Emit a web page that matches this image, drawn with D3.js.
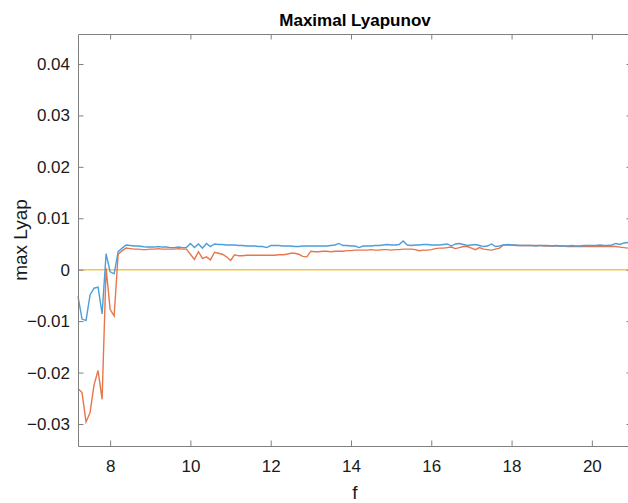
<!DOCTYPE html>
<html>
<head>
<meta charset="utf-8">
<script src="https://cdn.jsdelivr.net/npm/d3@7"></script>
<style>
  body { margin: 0; background: #fff; }
  svg { display: block; font-family: "Liberation Sans", Arial, sans-serif; }
  .axis path { stroke: #808080; }
  .axis line { stroke: #808080; }
  .axis text { fill: #1a1a1a; font-size: 17px; }
</style>
</head>
<body>
<svg id="chart"></svg>
<script>
// f values: 7.2 .. 21.0 in steps of 0.1
var fStart = 7.2, fStep = 0.1;

// first series (blue), units of 1e-3
var lyapBlue = [
  -5.2, -9.6, -9.9, -4.9, -3.6, -3.4, -8.6, 3.1, -0.4, -0.8,
  3.5, 4.2, 4.8, 4.7, 4.6, 4.6, 4.5, 4.4, 4.4, 4.4,
  4.5, 4.4, 4.4, 4.3, 4.3, 4.4, 4.3, 4.3, 5.1, 4.3,
  5.0, 4.2, 5.1, 4.5, 5.0, 4.9, 4.9, 4.8, 4.8, 4.8,
  4.7, 4.7, 4.6, 4.6, 4.6, 4.5, 4.5, 4.3, 4.7, 4.7,
  4.7, 4.6, 4.6, 4.6, 4.5, 4.5, 4.6, 4.6, 4.6, 4.6,
  4.6, 4.6, 4.6, 4.7, 4.8, 5.1, 4.7, 4.7, 4.6, 4.6,
  4.3, 4.6, 4.6, 4.6, 4.7, 4.7, 4.8, 4.9, 4.8, 4.8,
  4.9, 5.6, 4.8, 4.7, 4.8, 4.8, 4.9, 4.9, 4.8, 4.8,
  4.8, 4.9, 5.0, 4.6, 5.0, 5.1, 4.9, 4.7, 4.8, 4.9,
  4.7, 4.5, 4.6, 5.0, 4.5, 4.6, 4.8, 4.9, 4.8, 4.8,
  4.7, 4.7, 4.7, 4.7, 4.6, 4.7, 4.7, 4.7, 4.6, 4.7,
  4.6, 4.6, 4.6, 4.7, 4.6, 4.6, 4.7, 4.7, 4.7, 4.7,
  4.8, 4.7, 4.7, 4.8, 5.1, 4.9, 5.2, 5.3, 5.3
];

// second series (orange), units of 1e-3
var lyapOrange = [
  -23.1, -23.9, -29.6, -27.8, -22.4, -19.6, -25.2, 0.3, -7.7, -9.0,
  3.0, 3.7, 4.2, 4.1, 4.0, 4.0, 3.9, 3.9, 4.0, 4.0,
  4.1, 4.0, 4.0, 4.0, 4.0, 4.1, 4.0, 4.0, 3.0, 2.0,
  3.5, 2.2, 2.5, 1.9, 3.4, 3.2, 3.0, 2.5, 1.8, 2.9,
  2.7, 2.7, 2.8, 2.8, 2.8, 2.8, 2.8, 2.8, 2.8, 2.8,
  2.9, 2.9, 3.0, 3.2, 3.2, 3.0, 2.6, 2.5, 3.6, 3.5,
  3.5, 3.6, 3.6, 3.5, 3.6, 3.6, 3.6, 3.7, 3.7, 3.8,
  3.8, 3.8, 3.8, 3.9, 3.8, 3.8, 3.9, 3.9, 3.8, 3.9,
  3.9, 4.0, 4.0, 4.0, 3.9, 3.7, 3.8, 3.8, 3.9, 4.1,
  4.2, 4.2, 4.3, 4.4, 4.1, 4.3, 4.5, 4.5, 4.2, 3.9,
  4.3, 4.0, 3.9, 3.8, 4.0, 4.2, 4.8, 4.8, 4.8, 4.7,
  4.7, 4.7, 4.7, 4.7, 4.7, 4.7, 4.6, 4.6, 4.6, 4.6,
  4.6, 4.6, 4.5, 4.5, 4.5, 4.5, 4.5, 4.5, 4.5, 4.5,
  4.5, 4.5, 4.5, 4.5, 4.5, 4.4, 4.3, 4.2, 4.1
];

// zero reference line
var zeroF = [7.2, 21];
var zeroVal = [0, 0];

var xTicks = [8, 10, 12, 14, 16, 18, 20];
var yTicks = [-0.03, -0.02, -0.01, 0, 0.01, 0.02, 0.03, 0.04];

var W = 628, H = 503;
var margin = { top: 34, right: -4, bottom: 57, left: 78 };
var width = W - margin.left - margin.right,
    height = H - margin.top - margin.bottom;

var svg = d3.select("#chart").attr("width", W).attr("height", H);
var g = svg.append("g")
    .attr("transform", "translate(" + margin.left + "," + margin.top + ")");

var x = d3.scaleLinear().domain([7.2, 21]).range([0, width]);
var y = d3.scaleLinear().domain([-0.03428, 0.04583]).range([height, 0]);

function toPoints(arr) {
  return arr.map(function(v, i) { return { f: fStart + i * fStep, v: v / 1000 }; });
}

var line = d3.line()
    .x(function(d) { return x(d.f); })
    .y(function(d) { return y(d.v); });

// zero line
g.append("path")
    .attr("d", line(zeroF.map(function(f, i) { return { f: f, v: zeroVal[i] }; })))
    .attr("fill", "none")
    .attr("stroke", "#f5c64a")
    .attr("stroke-width", 1.5);

g.append("path")
    .attr("d", line(toPoints(lyapOrange)))
    .attr("fill", "none")
    .attr("stroke", "#e8764b")
    .attr("stroke-width", 1.4);

g.append("path")
    .attr("d", line(toPoints(lyapBlue)))
    .attr("fill", "none")
    .attr("stroke", "#4a9fdc")
    .attr("stroke-width", 1.4);

// axes, ticks pointing inward like matlab
var tk = 5.5;
g.append("g")
    .attr("class", "axis")
    .attr("transform", "translate(0," + height + ")")
    .call(d3.axisBottom(x).tickValues(xTicks).tickSizeInner(-tk).tickSizeOuter(0).tickPadding(14));

g.append("g")
    .attr("class", "axis")
    .call(d3.axisTop(x).tickValues(xTicks).tickSizeInner(-tk).tickSizeOuter(0).tickFormat(""));

g.append("g")
    .attr("class", "axis")
    .call(d3.axisLeft(y).tickValues(yTicks).tickSizeInner(-tk).tickSizeOuter(0).tickPadding(8)
      .tickFormat(function(d) { return d === 0 ? "0" : d3.format(".2f")(d); }));

g.append("g")
    .attr("class", "axis")
    .attr("transform", "translate(" + width + ",0)")
    .call(d3.axisRight(y).tickValues(yTicks).tickSizeInner(-tk).tickSizeOuter(0).tickFormat(""));

// title and labels
svg.append("text")
    .attr("x", margin.left + width / 2)
    .attr("y", 26)
    .attr("text-anchor", "middle")
    .style("font-size", "17px")
    .style("font-weight", "bold")
    .style("fill", "#000")
    .text("Maximal Lyapunov");

svg.append("text")
    .attr("x", margin.left + width / 2)
    .attr("y", 499)
    .attr("text-anchor", "middle")
    .style("font-size", "19px")
    .style("fill", "#1a1a1a")
    .text("f");

svg.append("text")
    .attr("transform", "translate(27," + (margin.top + height / 2) + ") rotate(-90)")
    .attr("text-anchor", "middle")
    .style("font-size", "19px")
    .style("fill", "#1a1a1a")
    .text("max Lyap");
</script>
</body>
</html>
